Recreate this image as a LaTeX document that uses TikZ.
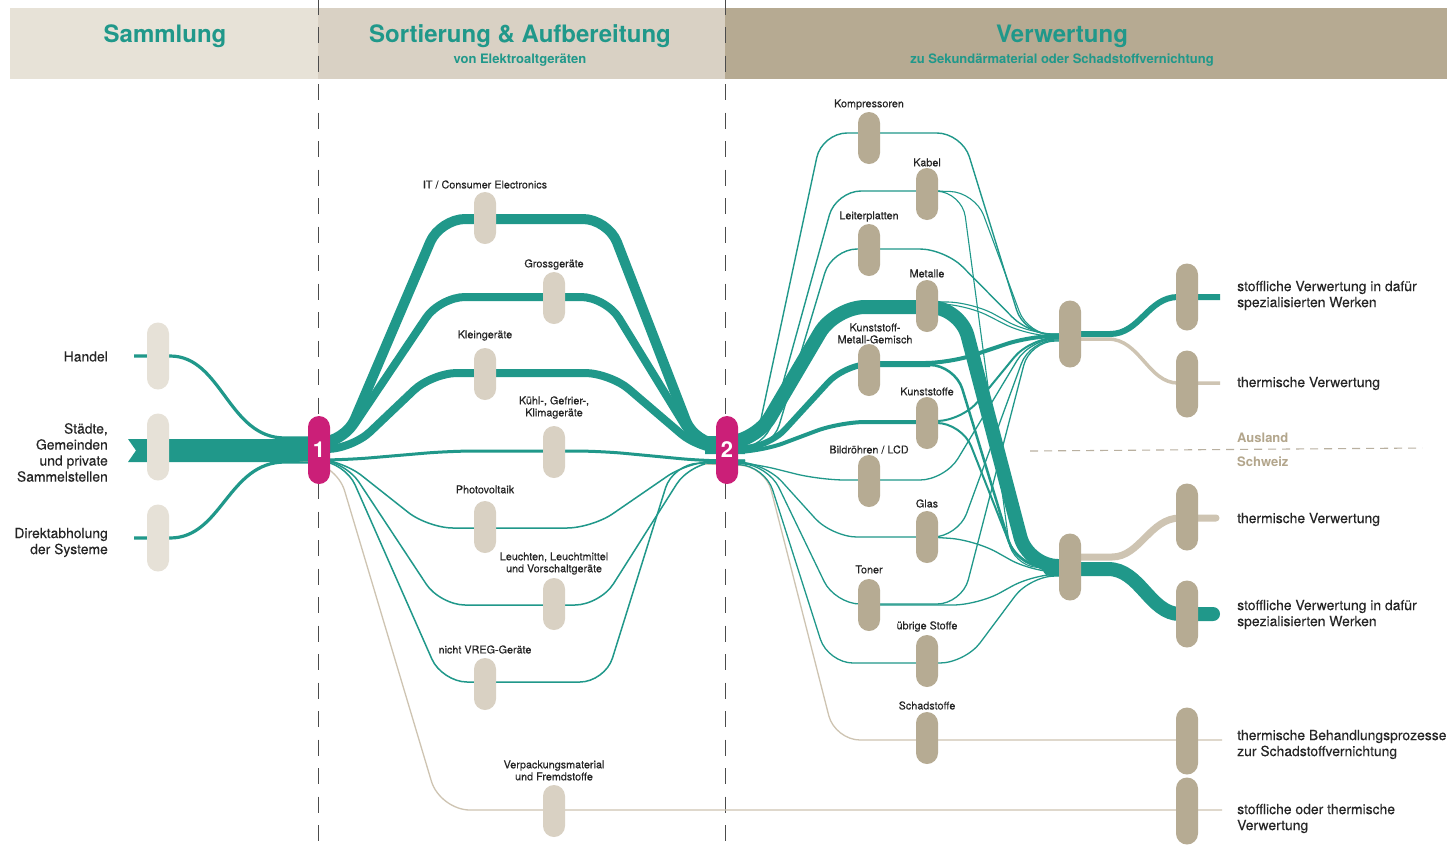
\documentclass[tikz,border=0pt]{standalone}
\usepackage{fontspec}
\setmainfont{TeX Gyre Heros}
\definecolor{flowteal}{HTML}{20988A}
\definecolor{hubmag}{HTML}{CB1F78}
\definecolor{beigeline}{HTML}{CEC4B2}
\definecolor{pillA}{HTML}{E6E1D7}
\definecolor{pillB}{HTML}{D9D1C3}
\definecolor{pillC}{HTML}{B6AB93}
\definecolor{headA}{HTML}{E7E2D7}
\definecolor{headB}{HTML}{D9D1C4}
\definecolor{headC}{HTML}{B6AA92}
\definecolor{txt}{HTML}{262626}
\definecolor{landtxt}{HTML}{B3A68C}
\begin{document}
\begin{tikzpicture}[x=1pt,y=-1pt,
  pill/.style={rounded corners=11pt, minimum width=22pt, inner sep=0pt, draw=none},
  pA/.style={pill, fill=pillA, minimum height=67pt},
  pB/.style={pill, fill=pillB, minimum height=52pt},
  pC/.style={pill, fill=pillC, minimum height=52pt},
  pD/.style={pill, fill=pillC, minimum height=67pt},
  hub/.style={pill, fill=hubmag, minimum height=68pt, text=white, font=\fontsize{22}{22}\selectfont\bfseries},
  flow/.style={draw=flowteal, rounded corners=25pt},
  bflow/.style={draw=beigeline, rounded corners=25pt},
  vdash/.style={draw=black!70, line width=1pt, dash pattern=on 16pt off 12.5pt},
  lblS/.style={font=\fontsize{10.8}{12}\selectfont\addfontfeature{FakeBold=0.25}, text=txt, align=center, inner sep=0pt},
  lblL/.style={font=\fontsize{13.9}{16}\selectfont\addfontfeature{FakeBold=0.15}, text=txt, inner sep=0pt},
  headT/.style={font=\fontsize{24}{26}\selectfont\bfseries, text=flowteal, inner sep=0pt},
  headS/.style={font=\fontsize{13}{14}\selectfont\bfseries, text=flowteal, inner sep=0pt},
  land/.style={font=\fontsize{13}{14}\selectfont\bfseries, text=landtxt, inner sep=0pt, anchor=west}
]
\useasboundingbox (0,0) rectangle (1448,847);
\fill[white] (0,0) rectangle (1448,847);

% header
\fill[headA] (10,8) rectangle (318,79);
\fill[headB] (318,8) rectangle (725,79);
\fill[headC] (725,8) rectangle (1447,79);
\node[headT] (h1) at (165,36.5) {Sammlung};
\node[headT] (h2) at (520,36.5) {Sortierung \& Aufbereitung};
\node[headS] (h2s) at (520,60) {von Elektroaltgeräten};
\node[headT] (h3) at (1062,36.5) {Verwertung};
\node[headS] (h3s) at (1062,60) {zu Sekundärmaterial oder Schadstoffvernichtung};

% dashed separators
\draw[vdash] (318,-1.5) -- (318,847);
\draw[vdash] (725,-1.5) -- (725,847);
\draw[draw=beigeline!90!black, line width=1.1pt, dash pattern=on 8pt off 6pt] (1030,451) -- (1422,448);

% ---- Sammlung flows
\fill[flowteal] (128,439) -- (312,439) -- (312,462) -- (128,462) -- (136,450.5) -- cycle;
\draw[flowteal, line width=3.2] (134,356) -- (170,356) .. controls (222,356) and (228,438) .. (285,438) -- (312,438);
\draw[flowteal, line width=3.2] (134,538) -- (170,538) .. controls (222,538) and (228,462) .. (285,462) -- (312,462);

% ---- Sortierung flows
\draw[bflow, line width=1.3, rounded corners=30pt] (300,461) -- (336,462) -- (440,810) -- (1222,810);
\draw[flow, line width=10] (300,442) -- (345,442) -- (440,219) -- (608,219) -- (695,444) -- (745,444);
\draw[flow, line width=8] (300,446) -- (340,446) -- (440,297) -- (606,297) -- (698,447) -- (745,447);
\draw[flow, line width=8] (300,449) -- (352,449) -- (432,373) -- (610,373) -- (700,450) -- (745,450);
\draw[flow, line width=3] (300,460) -- (345,460) -- (450,451) -- (600,451) -- (705,461) -- (745,461);
\draw[flow, line width=1.5] (300,458) -- (342,460) -- (428,528) -- (592,528) -- (688,462) -- (745,460);
\draw[flow, line width=1.5] (300,459) -- (345,461) -- (440,605) -- (600,605) -- (690,463) -- (745,461);
\draw[flow, line width=1.5] (300,460) -- (345,462) -- (442,682) -- (605,682) -- (673,464) -- (745,462);

% ---- Verwertung flows
\draw[bflow, line width=1.3] (705,464) -- (765,466) -- (835,740) -- (1222,740);
\draw[flow, line width=14, rounded corners=30pt] (705,443) -- (755,443) -- (835,307) -- (960,307) -- (1028,566) -- (1070,566);
\draw[flow, line width=1.4] (705,447) -- (755,447) -- (822,133) -- (962,133) -- (1024,334) -- (1068,334);
\draw[flow, line width=1.4] (705,448) -- (765,448) -- (836,191) -- (940,191);
\draw[flow, line width=1.1] (930,191) -- (975,192) -- (1028,335) -- (1068,335);
\draw[flow, line width=1.1] (930,191) -- (962,192) -- (1012,566) -- (1068,569);
\draw[flow, line width=1.4] (705,449) -- (772,449) -- (832,249) -- (945,249) -- (1030,335) -- (1068,335);
\draw[flow, line width=1.1] (930,302) -- (972,302) -- (1030,334) -- (1068,334);
\draw[flow, line width=1.1] (930,304) -- (965,304) -- (1028,336) -- (1068,336);
\draw[flow, line width=6] (705,448) -- (768,448) -- (845,364) -- (930,364);
\draw[flow, line width=4] (870,363) -- (950,363) -- (1030,336) -- (1068,336);
\draw[flow, line width=2.5] (870,365) -- (955,365) -- (1016,565) -- (1068,568);
\draw[flow, line width=4] (705,452) -- (760,452) -- (840,422) -- (937,422);
\draw[flow, line width=2] (930,421) -- (962,421) -- (1030,338) -- (1068,338);
\draw[flow, line width=2] (930,423) -- (962,423) -- (1018,565) -- (1068,569);
\draw[flow, line width=1.3] (705,460) -- (752,463) -- (820,480) -- (945,480) -- (1030,339) -- (1068,339);
\draw[flow, line width=1.3] (705,461) -- (765,463) -- (832,537) -- (937,537);
\draw[flow, line width=1.3] (930,537) -- (958,537) -- (1030,340) -- (1068,340);
\draw[flow, line width=1.3] (930,537) -- (975,540) -- (1032,572) -- (1068,572);
\draw[flow, line width=1.3] (705,462) -- (768,465) -- (835,604) -- (879,604);
\draw[flow, line width=1.3] (870,604) -- (962,604) -- (1030,341) -- (1068,341);
\draw[flow, line width=1.3] (870,605) -- (978,605) -- (1034,574) -- (1068,574);
\draw[flow, line width=1.3] (705,463) -- (765,466) -- (828,663) -- (965,663) -- (1030,576) -- (1068,576);

% collector outputs
\draw[flowteal, line width=6] (1065,334) -- (1110,334) .. controls (1140,334) and (1148,297) .. (1178,297) -- (1220,297);
\draw[beigeline, line width=3.5] (1065,339) -- (1108,339) .. controls (1140,339) and (1148,383) .. (1178,383) -- (1220,383);
\draw[beigeline, line width=7, line cap=round] (1065,557) -- (1112,557) .. controls (1140,557) and (1150,518) .. (1180,518) -- (1216,518);
\draw[flowteal, line width=14, line cap=round] (1050,569) -- (1108,569) .. controls (1140,569) and (1150,614) .. (1180,614) -- (1213,614);

% ---- pills: Sammlung
\node[pA] (sHandel) at (158,356) {};
\node[pA] (sStaedte) at (158,447) {};
\node[pA] (sDirekt) at (158,538) {};
% hubs
\node[hub] (n1) at (319,450) {1};
\node[hub] (n2) at (727,450) {2};
% Sortierung pills
\node[pB] (bIT) at (485,218) {};
\node[pB] (bGross) at (554,298) {};
\node[pB] (bKlein) at (485,374) {};
\node[pB] (bKuehl) at (554,452) {};
\node[pB] (bPV) at (485,527) {};
\node[pB] (bLeucht) at (554,604) {};
\node[pB] (bVREG) at (485,684) {};
\node[pB] (bVerp) at (554,811) {};
% Verwertung pills
\node[pC] (vKomp) at (869,138) {};
\node[pC] (vKabel) at (927,194) {};
\node[pC] (vLeiter) at (869,250) {};
\node[pC] (vMet) at (927,306) {};
\node[pC] (vKMG) at (869,370) {};
\node[pC] (vKunst) at (927,423) {};
\node[pC] (vBild) at (869,481) {};
\node[pC] (vGlas) at (927,537) {};
\node[pC] (vToner) at (869,605) {};
\node[pC] (vUebr) at (927,661) {};
\node[pC] (vSchad) at (927,738) {};
% collectors and endpoints
\node[pD] (cU) at (1070,334) {};
\node[pD] (cL) at (1070,567) {};
\node[pD] (e1) at (1187,297) {};
\node[pD] (e2) at (1187,384) {};
\node[pD] (e3) at (1187,517) {};
\node[pD] (e4) at (1187,614) {};
\node[pD] (e5) at (1187,741) {};
\node[pD] (e6) at (1187,811) {};

% ---- labels left
\node[lblL, anchor=east] (tHandel) at (108,356.5) {Handel};
\node[lblL, anchor=east, align=right] (tStaedte) at (108,452.5) {Städte,\\Gemeinden\\und private\\Sammelstellen};
\node[lblL, anchor=east, align=right] (tDirekt) at (108,542.5) {Direktabholung\\der Systeme};

% labels Sortierung
\node[lblS] (lIT) at (485,184.5) {IT / Consumer Electronics};
\node[lblS] (lGross) at (554,264.5) {Grossgeräte};
\node[lblS] (lKlein) at (485,335.5) {Kleingeräte};
\node[lblS] (lKuehl) at (554,407.5) {Kühl-, Gefrier-,\\Klimageräte};
\node[lblS] (lPV) at (485,489.5) {Photovoltaik};
\node[lblS] (lLeucht) at (554,563.5) {Leuchten, Leuchtmittel\\und Vorschaltgeräte};
\node[lblS] (lVREG) at (485,649.5) {nicht VREG-Geräte};
\node[lblS] (lVerp) at (554,770.5) {Verpackungsmaterial\\und Fremdstoffe};

% labels Verwertung
\node[lblS] (lKomp) at (869,104.5) {Kompressoren};
\node[lblS] (lKabel) at (927,162.5) {Kabel};
\node[lblS] (lLeiter) at (869,216.5) {Leiterplatten};
\node[lblS] (lMet) at (927,273.5) {Metalle};
\node[lblS] (lKMG) at (875,333.5) {Kunststoff-\\Metall-Gemisch};
\node[lblS] (lKunst) at (927,391.5) {Kunststoffe};
\node[lblS] (lBild) at (869,449.5) {Bildröhren / LCD};
\node[lblS] (lGlas) at (927,503.5) {Glas};
\node[lblS] (lToner) at (869,569.5) {Toner};
\node[lblS] (lUebr) at (927,626.5) {übrige Stoffe};
\node[lblS] (lSchad) at (927,705.5) {Schadstoffe};

% labels right
\node[lblL, anchor=west, align=left] (r1) at (1237,295.5) {stoffliche Verwertung in dafür\\spezialisierten Werken};
\node[lblL, anchor=west, align=left] (r2) at (1237,383.5) {thermische Verwertung};
\node[lblL, anchor=west, align=left] (r3) at (1237,519.5) {thermische Verwertung};
\node[lblL, anchor=west, align=left] (r4) at (1237,614.5) {stoffliche Verwertung in dafür\\spezialisierten Werken};
\node[lblL, anchor=west, align=left] (r5) at (1237,744.5) {thermische Behandlungsprozesse\\zur Schadstoffvernichtung};
\node[lblL, anchor=west, align=left] (r6) at (1237,818.5) {stoffliche oder thermische\\Verwertung};
\node[land] (tAus) at (1237,437.5) {Ausland};
\node[land] (tCH) at (1237,461.5) {Schweiz};
\end{tikzpicture}
\end{document}
